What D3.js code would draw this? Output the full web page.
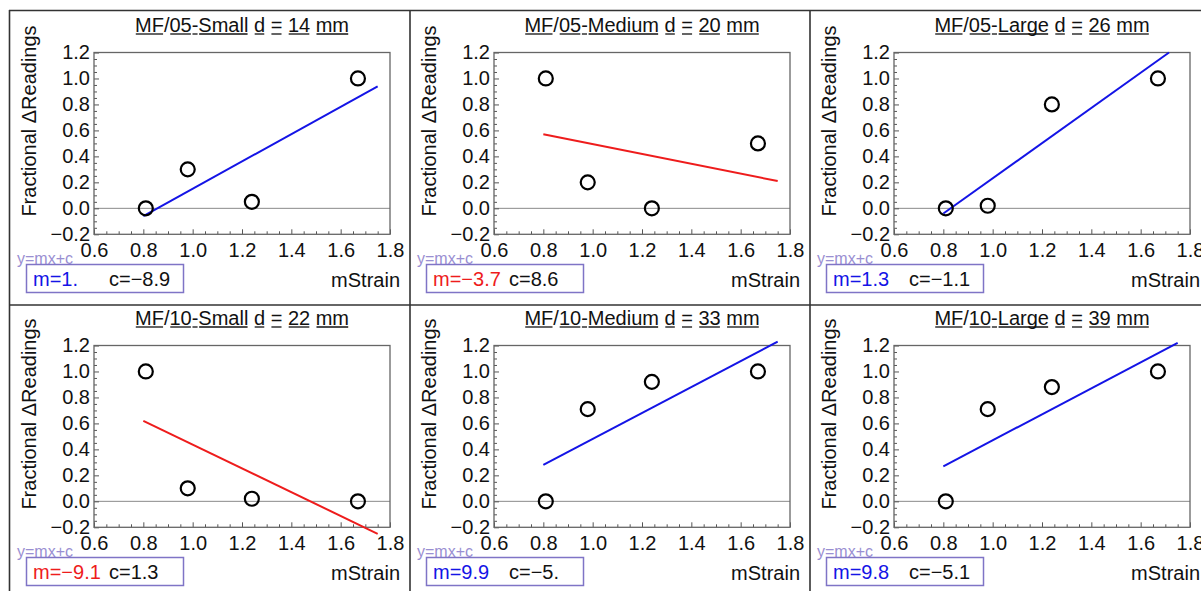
<!DOCTYPE html>
<html lang="en">

<head>
    <meta charset="UTF-8">
    <title>Fractional readings vs mStrain</title>
    <script src="https://cdnjs.cloudflare.com/ajax/libs/d3/7.9.0/d3.min.js"></script>
    <style>
        body { margin: 0; background: #fff; }
        svg { display: block; font-family: "Liberation Sans", Arial, sans-serif; }
    </style>
</head>

<body>
    <div id="chart"></div>

    <script>
        // data
        const series = ["MF/05", "MF/05", "MF/05", "MF/10", "MF/10", "MF/10"];
        const sizes = ["Small", "Medium", "Large", "Small", "Medium", "Large"];
        const diameters = [14, 20, 26, 22, 33, 39];
        const strain = [0.81, 0.98, 1.24, 1.67];
        const readings = [
            [0.0, 0.30, 0.05, 1.0],
            [1.0, 0.20, 0.0, 0.50],
            [0.0, 0.02, 0.80, 1.0],
            [1.0, 0.10, 0.02, 0.0],
            [0.0, 0.71, 0.92, 1.0],
            [0.0, 0.71, 0.88, 1.0]
        ];
        // fitted lines: start at x=0.8, end at fitEndX
        const fitStartY = [-0.06, 0.57, -0.04, 0.62, 0.28, 0.27];
        const fitEndX = [1.75, 1.75, 1.715, 1.75, 1.75, 1.75];
        const fitEndY = [0.94, 0.21, 1.2, -0.25, 1.23, 1.22];
        const slopes = ["1.", "\u22123.7", "1.3", "\u22129.1", "9.9", "9.8"];
        const intercepts = ["\u22128.9", "8.6", "\u22121.1", "1.3", "\u22125.", "\u22125.1"];
        const xTicks = [0.6, 0.8, 1.0, 1.2, 1.4, 1.6, 1.8];
        const yTicks = [-0.2, 0, 0.2, 0.4, 0.6, 0.8, 1.0, 1.2];

        const W = 1201, H = 591;
        const colW = 400, rowH = 293;
        const BLUE = "#1414e6", RED = "#ee1c1c";

        const svg = d3.select("#chart").append("svg")
            .attr("width", W)
            .attr("height", H);

        const x = d3.scaleLinear().domain([0.6, 1.8]).range([94, 390]);
        const y = d3.scaleLinear().domain([-0.2, 1.2]).range([234.3, 52.5]);

        const minorX = d3.range(0.6, 1.8001, 0.05).filter(v => Math.abs(v * 5 - Math.round(v * 5)) > 1e-6);
        const minorY = d3.range(-0.2, 1.2001, 0.05).filter(v => Math.abs(v * 5 - Math.round(v * 5)) > 1e-6);

        function drawTitle(g, i) {
            const parts = [
                { t: "MF", u: true }, { t: "/", u: false }, { t: series[i].split("/")[1], u: true },
                { t: "-", u: true }, { t: sizes[i], u: true }, { t: " ", u: false },
                { t: "d", u: true }, { t: " ", u: false }, { t: "=", u: true }, { t: " ", u: false },
                { t: String(diameters[i]), u: true }, { t: " ", u: false }, { t: "mm", u: true }
            ];
            const tg = g.append("g");
            let cx = 0;
            parts.forEach(p => {
                const t = tg.append("text")
                    .attr("x", cx)
                    .attr("y", 31.5)
                    .attr("font-size", 20)
                    .attr("fill", "#111")
                    .attr("xml:space", "preserve")
                    .style("white-space", "pre")
                    .text(p.t);
                const w = t.node().getComputedTextLength();
                if (p.u) {
                    tg.append("line")
                        .attr("x1", cx + 0.8).attr("x2", cx + w - 0.8)
                        .attr("y1", 34).attr("y2", 34)
                        .attr("stroke", "#111").attr("stroke-width", 1.3);
                }
                cx += w;
            });
            tg.attr("transform", `translate(${(x.range()[0] + x.range()[1]) / 2 - cx / 2},0)`);
        }

        series.forEach((s, i) => {
            const col = i % 3, row = Math.floor(i / 3);
            const g = svg.append("g").attr("transform", `translate(${col * colW},${row * rowH})`);
            const neg = slopes[i].startsWith("\u2212");
            const color = neg ? RED : BLUE;

            drawTitle(g, i);

            g.append("text")
                .attr("transform", "translate(36,121) rotate(-90)")
                .attr("text-anchor", "middle")
                .attr("font-size", 20)
                .attr("fill", "#111")
                .text("Fractional \u0394Readings");

            // zero line
            g.append("line")
                .attr("x1", x(0.6)).attr("x2", x(1.8))
                .attr("y1", y(0)).attr("y2", y(0))
                .attr("stroke", "#8a8a8a").attr("stroke-width", 1);

            // minor ticks
            g.append("g")
                .attr("transform", `translate(0,${y(-0.2)})`)
                .call(d3.axisBottom(x).tickValues(minorX).tickSize(-3).tickFormat(""))
                .call(a => a.select(".domain").remove())
                .call(a => a.selectAll("line").attr("stroke", "#555"));
            g.append("g")
                .attr("transform", `translate(${x(0.6)},0)`)
                .call(d3.axisLeft(y).tickValues(minorY).tickSize(-3).tickFormat(""))
                .call(a => a.select(".domain").remove())
                .call(a => a.selectAll("line").attr("stroke", "#555"));

            // major ticks and labels
            g.append("g")
                .attr("transform", `translate(0,${y(-0.2)})`)
                .call(d3.axisBottom(x).tickValues(xTicks).tickSize(-5).tickPadding(8.3).tickFormat(d3.format(".1f")))
                .call(a => a.select(".domain").remove())
                .call(a => a.selectAll("line").attr("stroke", "#555"))
                .call(a => a.selectAll("text").attr("font-size", 20).attr("fill", "#111")
                    .attr("font-family", "'Liberation Sans', Arial, sans-serif"));
            g.append("g")
                .attr("transform", `translate(${x(0.6)},0)`)
                .call(d3.axisLeft(y).tickValues(yTicks).tickSize(-5).tickPadding(4).tickFormat(d3.format(".1f")))
                .call(a => a.select(".domain").remove())
                .call(a => a.selectAll("line").attr("stroke", "#555"))
                .call(a => a.selectAll("text").attr("font-size", 20).attr("fill", "#111")
                    .attr("font-family", "'Liberation Sans', Arial, sans-serif"));

            // frame
            g.append("rect")
                .attr("x", x(0.6)).attr("y", y(1.2))
                .attr("width", x(1.8) - x(0.6)).attr("height", y(-0.2) - y(1.2))
                .attr("fill", "none").attr("stroke", "#666").attr("stroke-width", 1.3);

            // fit line
            g.append("path")
                .datum([[0.8, fitStartY[i]], [fitEndX[i], fitEndY[i]]])
                .attr("fill", "none")
                .attr("stroke", color)
                .attr("stroke-width", 2)
                .attr("d", d3.line().x(d => x(d[0])).y(d => y(d[1])));

            // points
            g.selectAll("circle.pt")
                .data(readings[i])
                .enter().append("circle")
                .attr("class", "pt")
                .attr("cx", (d, j) => x(strain[j]))
                .attr("cy", d => y(d))
                .attr("r", 7)
                .attr("fill", "none")
                .attr("stroke", "#000")
                .attr("stroke-width", 2.2);

            // legend
            g.append("text")
                .attr("x", 17).attr("y", 264)
                .attr("font-size", 16)
                .attr("fill", "#9a8fd2")
                .text("y=mx+c");
            g.append("rect")
                .attr("x", 26.5).attr("y", 264.5)
                .attr("width", 157).attr("height", 28)
                .attr("fill", "#fff")
                .attr("stroke", "#7f74c6").attr("stroke-width", 1.5);
            g.append("text")
                .attr("x", 33).attr("y", 286)
                .attr("font-size", 20)
                .attr("fill", color)
                .text("m=" + slopes[i]);
            g.append("text")
                .attr("x", 109).attr("y", 286)
                .attr("font-size", 20)
                .attr("fill", "#111")
                .text("c=" + intercepts[i]);

            g.append("text")
                .attr("x", 400).attr("y", 287)
                .attr("text-anchor", "end")
                .attr("font-size", 20)
                .attr("fill", "#111")
                .text("mStrain");
        });

        // cell borders
        const vLines = [9.5, 410, 810];
        const hLines = [10.5, 305];
        svg.selectAll("line.vb").data(vLines).enter().append("line")
            .attr("class", "vb")
            .attr("x1", d => d).attr("x2", d => d)
            .attr("y1", 10).attr("y2", H)
            .attr("stroke", "#333").attr("stroke-width", 1.6);
        svg.selectAll("line.hb").data(hLines).enter().append("line")
            .attr("class", "hb")
            .attr("x1", 9).attr("x2", W)
            .attr("y1", d => d).attr("y2", d => d)
            .attr("stroke", "#333").attr("stroke-width", 1.6);
    </script>
</body>

</html>
